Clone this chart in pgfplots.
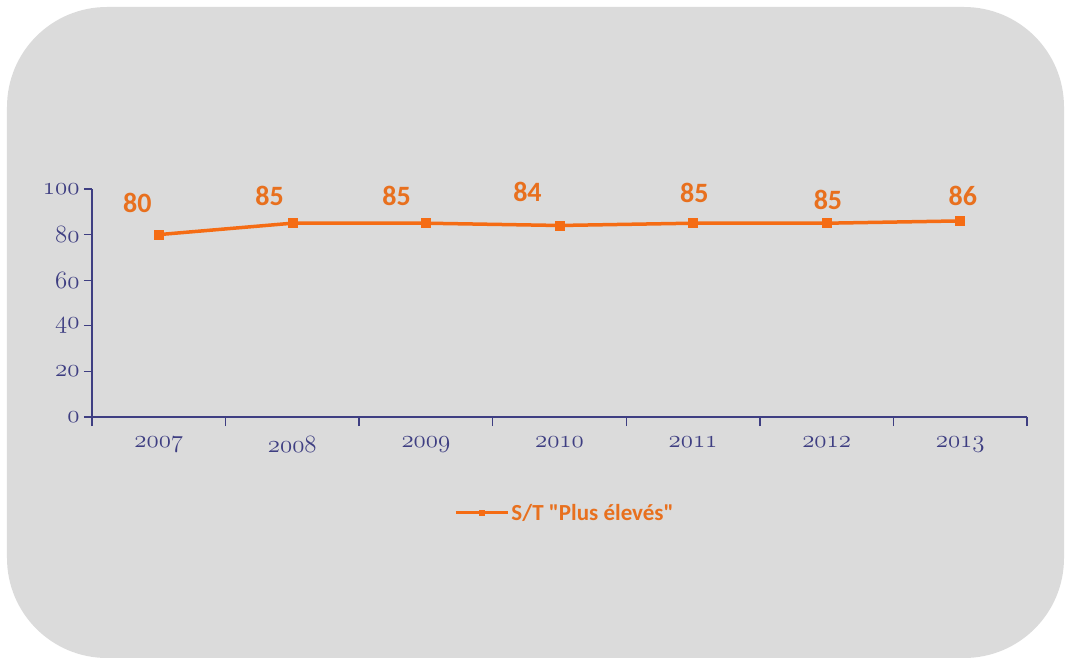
\documentclass[border=0pt]{standalone}
\usepackage{fontspec}
\setmainfont{Carlito}[Ligatures=TeXOff]
\usepackage{pgfplots}
\pgfplotsset{compat=1.18}

\definecolor{bg}{RGB}{219,219,219}
\definecolor{lineor}{RGB}{245,108,20}
\definecolor{labelor}{RGB}{232,112,30}
\definecolor{navy}{RGB}{62,62,130}

\newcommand{\os}[1]{$\mathnormal{#1}$}

\begin{document}
\begin{tikzpicture}[x=1pt,y=1pt]
\useasboundingbox (-92,-240) rectangle (973,417);
% rounded panel
\fill[bg, rounded corners=100pt] (-85,-241) rectangle (972,410);

\begin{axis}[
    at={(0,0)}, anchor=south west,
    scale only axis,
    width=935pt, height=228pt,
    xmin=-0.5, xmax=6.5,
    ymin=0, ymax=100,
    clip=false,
    axis x line=bottom, axis y line=left,
    axis line style={navy, line width=1.3pt, -},
    every tick/.style={navy, line width=1.3pt},
    tick align=outside,
    major tick length=8pt,
    minor tick length=9pt,
    xtick={0,...,6},
    xticklabels={\os{2007},\os{2008},\os{2009},\os{2010},\os{2011},\os{2012},\os{2013}},
    minor xtick={-0.5,0.5,...,6.5},
    x tick style={draw=none},
    minor x tick style={draw=navy, line width=1.3pt},
    ytick={0,20,...,100},
    yticklabels={\os{0},\os{20},\os{40},\os{60},\os{80},\os{100}},
    tick label style={font=\fontsize{23}{25}\selectfont, text=navy},
    xticklabel style={yshift=-8pt},
    yticklabel style={xshift=-1pt},
    legend style={at={(0.506,-0.42)}, anchor=center, draw=none, fill=none,
        font=\fontsize{23}{25}\selectfont\bfseries, text=labelor,
        inner sep=0pt},
    legend image code/.code={
        \draw[#1, mark size=2.5pt, line width=3pt, mark repeat=2, mark phase=2]
            plot coordinates {(0pt,0pt) (26pt,0pt) (52pt,0pt)};},
]
\addplot[color=lineor, line width=3.5pt, mark=square*, mark size=4.5pt,
    mark options={solid, fill=lineor, line width=0.5pt}]
    coordinates {(0,80) (1,85) (2,85) (3,84) (4,85) (5,85) (6,86)};
\addlegendentry{S/T "Plus élevés"}

% data labels
\addplot[draw=none, forget plot, nodes near coords, point meta=explicit symbolic,
    nodes near coords style={anchor=center, text=labelor,
        font=\fontsize{28}{30}\selectfont\bfseries}]
    coordinates {(-0.16,93.9)[80] (0.83,96.9)[85] (1.78,96.9)[85] (2.76,98.7)[84]
                 (4.01,98.2)[85] (5.01,95.2)[85] (6.02,96.9)[86]};
\end{axis}
\end{tikzpicture}
\end{document}
